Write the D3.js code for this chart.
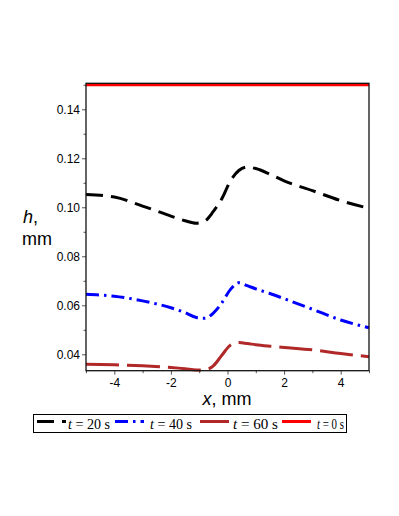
<!DOCTYPE html>
<html>
<head>
<meta charset="utf-8">
<script src="https://cdn.jsdelivr.net/npm/d3@7"></script>
<style>
  html, body { margin: 0; padding: 0; background: #fff; }
  svg { display: block; }
</style>
</head>
<body>
<div id="chart"></div>
<script>
// data
const xValues = [-5, -4, -3, -2, -1.5, -1.1, -0.8, -0.5, -0.2, 0.1, 0.4, 0.7, 1, 1.5, 2, 3, 4, 5];
const h20 = [0.1052, 0.1042, 0.1005, 0.0964, 0.0945, 0.0935, 0.0944, 0.0983, 0.1035, 0.1107, 0.1150, 0.1164, 0.1158, 0.1135, 0.1108, 0.1068, 0.1027, 0.0996];
const h40 = [0.0645, 0.0637, 0.0618, 0.0590, 0.0570, 0.0550, 0.0547, 0.0568, 0.0610, 0.0664, 0.0692, 0.0680, 0.0667, 0.0648, 0.0627, 0.0584, 0.0540, 0.0508];
const h60 = [0.0359, 0.0357, 0.0353, 0.0346, 0.0341, 0.0336, 0.0337, 0.0353, 0.0396, 0.0437, 0.0448, 0.0444, 0.0439, 0.0433, 0.0428, 0.0418, 0.0403, 0.0390];
const h0x = [-5, 5];
const h0 = [0.15, 0.15];

const seriesNames = ["20", "40", "60", "0"];
const xTicks = [-4, -2, 0, 2, 4];
const xMinor = [-5, -3, -1, 1, 3, 5];
const yTicks = [0.04, 0.06, 0.08, 0.10, 0.12, 0.14];
const yMinor = [0.05, 0.07, 0.09, 0.11, 0.13, 0.15];

const width = 399, height = 516;
const plot = { left: 86, right: 369, top: 83.3, bottom: 370.7 };

const svg = d3.select("#chart").append("svg")
  .attr("width", width)
  .attr("height", height);

const x = d3.scaleLinear().domain([-5, 5]).range([plot.left, plot.right]);
const y = d3.scaleLinear().domain([0.0333, 0.1506]).range([plot.bottom, plot.top]);

const styles = [
  { xs: xValues, ys: h20, color: "#000000", dash: "17,8" },
  { xs: xValues, ys: h40, color: "#0000ff", dash: "13,5,2.5,5" },
  { xs: xValues, ys: h60, color: "#b02828", dash: "33,8" },
  { xs: h0x, ys: h0, color: "#ff0000", dash: null }
];

// axes: major + minor ticks, left and bottom
const tickFont = "'Liberation Sans', Arial, sans-serif";

const gy = svg.append("g")
  .attr("transform", `translate(${plot.left},0)`)
  .call(d3.axisLeft(y).tickValues(yTicks).tickFormat(d3.format(".2f")).tickSize(4).tickPadding(2));
const gyMinor = svg.append("g")
  .attr("transform", `translate(${plot.left},0)`)
  .call(d3.axisLeft(y).tickValues(yMinor).tickFormat("").tickSize(2.5));

const gx = svg.append("g")
  .attr("transform", `translate(0,${plot.bottom})`)
  .call(d3.axisBottom(x).tickValues(xTicks).tickFormat(d => String(d)).tickSize(4).tickPadding(4));
const gxMinor = svg.append("g")
  .attr("transform", `translate(0,${plot.bottom})`)
  .call(d3.axisBottom(x).tickValues(xMinor).tickFormat("").tickSize(2.5));

[gy, gyMinor, gx, gxMinor].forEach(g => {
  g.select(".domain").remove();
  g.selectAll("line").attr("stroke", "#555").attr("stroke-width", 1);
  g.selectAll("text")
    .attr("fill", "#000")
    .style("font-family", tickFont)
    .style("font-size", "12px");
});

// curves
const line = d3.line()
  .x(d => x(d[0]))
  .y(d => y(d[1]))
  .curve(d3.curveMonotoneX);

styles.forEach(s => {
  svg.append("path")
    .datum(s.xs.map((v, i) => [v, s.ys[i]]))
    .attr("fill", "none")
    .attr("stroke", s.color)
    .attr("stroke-width", 3)
    .attr("stroke-dasharray", s.dash)
    .attr("d", line);
});

// frame (boxed axes)
svg.append("rect")
  .attr("x", plot.left)
  .attr("y", plot.top)
  .attr("width", plot.right - plot.left)
  .attr("height", plot.bottom - plot.top)
  .attr("fill", "none")
  .attr("stroke", "#111")
  .attr("stroke-width", 1.3);

// axis titles
const yLab = svg.append("g")
  .style("font-family", tickFont)
  .style("font-size", "18px");
yLab.append("text").attr("x", 23).attr("y", 223)
  .call(t => {
    t.append("tspan").attr("font-style", "italic").text("h");
    t.append("tspan").text(",");
  });
yLab.append("text").attr("x", 22).attr("y", 244.5).text("mm");

svg.append("text")
  .attr("x", 227)
  .attr("y", 405)
  .attr("text-anchor", "middle")
  .style("font-family", tickFont)
  .style("font-size", "18px")
  .call(t => {
    t.append("tspan").attr("font-style", "italic").text("x");
    t.append("tspan").text(", mm");
  });

// legend
svg.append("rect")
  .attr("x", 33.5).attr("y", 414.5)
  .attr("width", 313).attr("height", 18)
  .attr("fill", "none")
  .attr("stroke", "#000")
  .attr("stroke-width", 1);

const legendX = [37, 115, 200, 282];
const legendTextX = [68, 150, 233, 317];
const legendTextW = [42, 42, 45, 27];
styles.forEach((s, i) => {
  svg.append("line")
    .attr("x1", legendX[i]).attr("x2", legendX[i] + 29)
    .attr("y1", 421.5).attr("y2", 421.5)
    .attr("stroke", s.color)
    .attr("stroke-width", 3)
    .attr("stroke-dasharray", s.dash);
  svg.append("text")
    .attr("x", legendTextX[i])
    .attr("y", 428.5)
    .attr("textLength", legendTextW[i])
    .attr("lengthAdjust", "spacingAndGlyphs")
    .style("font-family", "'Liberation Serif', 'Times New Roman', serif")
    .style("font-size", "14px")
    .call(t => {
      t.append("tspan").attr("font-style", "italic").text("t");
      t.append("tspan").text(` = ${seriesNames[i]} s`);
    });
});
</script>
</body>
</html>
